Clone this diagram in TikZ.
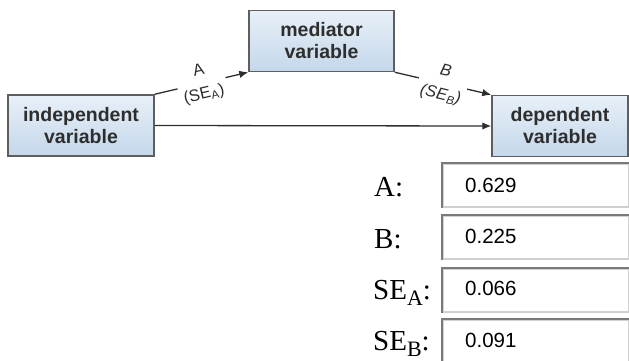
\documentclass[tikz,border=0pt]{standalone}
\usepackage{fontspec}
\setmainfont{Liberation Serif}
\setsansfont{Liberation Sans}
\usetikzlibrary{arrows.meta}
\definecolor{boxline}{HTML}{5E5E5E}
\definecolor{boxtop}{HTML}{E8F0F8}
\definecolor{boxbot}{HTML}{C4D7EA}
\definecolor{inkdark}{HTML}{2E2E2E}
\definecolor{fielddark}{HTML}{7A7A7A}
\definecolor{fieldlight}{HTML}{D0D0D0}
\begin{document}
\begin{tikzpicture}[x=1pt,y=-1pt,
  varbox/.style={draw=boxline, line width=1.5pt, top color=boxtop, bottom color=boxbot,
    align=center, font=\sffamily\bfseries\fontsize{19.5}{22}\selectfont, text=inkdark,
    inner sep=0pt, minimum height=61pt},
  arr/.style={draw=inkdark, line width=1.3pt, -{Latex[length=9pt,width=7.5pt]}},
  elab/.style={sloped, fill=white, align=center, text=inkdark,
    font=\sffamily\fontsize{16.5}{24}\selectfont, inner xsep=4pt, inner ysep=0pt},
  field/.style={draw=fieldlight, line width=1.5pt, fill=white, minimum width=186pt,
    minimum height=43pt, anchor=north west, inner sep=0pt},
  fedge/.style={draw=fielddark, line width=2pt},
  fval/.style={anchor=base west, font=\sffamily\fontsize{20.5}{24}\selectfont, inner sep=0pt},
  flab/.style={anchor=base west, font=\rmfamily\fontsize{29}{32}\selectfont, inner sep=0pt}]
\useasboundingbox (0,0) rectangle (629,360);

% variable boxes
\node[varbox, minimum width=146pt] (ind) at (81,125.5) {independent\\variable};
\node[varbox, minimum width=145pt] (med) at (321.5,41) {mediator\\variable};
\node[varbox, minimum width=136pt] (dep) at (560,126) {dependent\\variable};

% connectors
\draw[arr] (ind.north east) -- node[elab] {A\\(SE\textsubscript{A})} (med.south west);
\draw[arr] (med.south east) -- node[elab, font=\sffamily\itshape\fontsize{16.5}{24}\selectfont] {B\\(SE\textsubscript{B})} (dep.north west);
\draw[arr] (ind.east) -- (dep.west);

% input fields
\node[field] (fa) at (442,163) {};
\node[field] (fb) at (442,215) {};
\node[field] (fc) at (442,268) {};
\node[field] (fd) at (442,319) {};
\foreach \f in {fa,fb,fc,fd}{
  \draw[fedge] (\f.south west) -- (\f.north west) -- (\f.north east);
}
\node[fval] (va) at (465,192) {0.629};
\node[fval] (vb) at (465,243) {0.225};
\node[fval] (vc) at (465,295) {0.066};
\node[fval] (vd) at (465,347) {0.091};

% labels
\node[flab] (la) at (374,196) {A:};
\node[flab] (lb) at (374,248) {B:};
\node[flab] (lc) at (373,299) {SE\raisebox{-6pt}{\fontsize{22}{22}\selectfont A}:};
\node[flab] (ld) at (373,350) {SE\raisebox{-6pt}{\fontsize{22}{22}\selectfont B}:};
\end{tikzpicture}
\end{document}
